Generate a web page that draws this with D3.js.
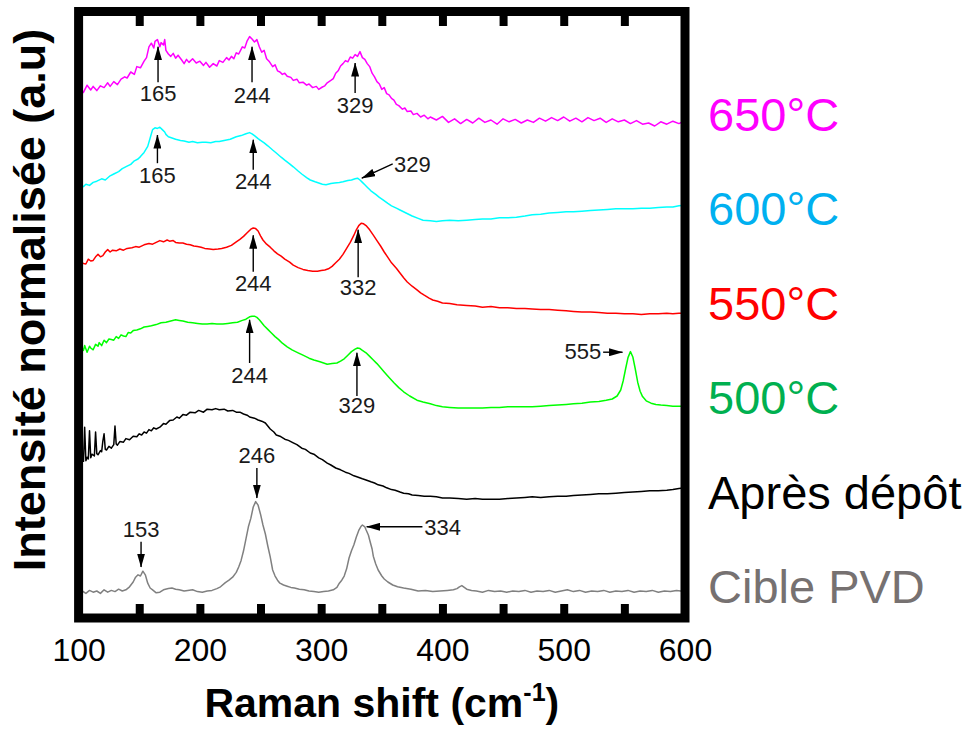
<!DOCTYPE html>
<html><head><meta charset="utf-8">
<script src="https://cdn.jsdelivr.net/npm/d3@7"></script>
<style>body{margin:0;background:#fff}</style>
</head><body>
<script>
// ---------- DATA ----------
const seriesNames = ["650°C","600°C","550°C","500°C","Après dépôt","Cible PVD"];
const lineColors  = ["#ff00ff","#00ffff","#ff0000","#00ff00","#000000","#808080"];
const labelColors = ["#ff00ff","#00b0f0","#ff0000","#00b050","#000000","#767171"];

// [Raman shift (cm-1), normalised intensity + offset (a.u.)]
const s650 = [[101,88.2],[104,87.6],[107,88.8],[110,88.0],[112,88.6],[115,87.9],[118,88.7],[121,88.4],[124,89.2],[126,88.6],[129,89.4],[132,88.9],[135,89.8],[138,90.2],[140,90.0],[143,91.0],[146,90.6],[148,91.9],[151,91.7],[154,92.8],[156,93.4],[158,95.2],[160,95.8],[162,95.0],[163,96.1],[165,96.4],[167,95.2],[168,95.9],[170,95.5],[171,96.4],[172,94.6],[174,94.0],[176,93.6],[178,94.1],[180,93.3],[182,93.8],[185,93.0],[187,92.4],[189,93.1],[191,92.6],[194,93.2],[197,92.5],[200,92.8],[203,92.1],[205,92.6],[208,91.8],[211,92.4],[214,92.0],[216,92.9],[219,92.6],[222,93.4],[224,93.0],[226,93.6],[228,93.2],[230,94.2],[232,94.0],[235,95.2],[237,95.0],[239,96.2],[241,96.9],[243,96.5],[245,96.0],[247,96.4],[249,95.2],[251,94.3],[253,94.6],[255,93.2],[257,92.8],[260,91.9],[262,92.2],[264,91.2],[266,91.0],[268,90.6],[270,90.8],[272,90.3],[275,90.1],[277,89.6],[280,89.8],[282,89.2],[285,89.3],[288,88.8],[290,89.0],[293,88.4],[296,88.6],[298,88.1],[301,88.5],[303,88.7],[305,89.2],[308,89.6],[310,89.9],[312,90.8],[314,91.2],[316,92.0],[318,92.4],[320,92.9],[322,92.7],[324,93.5],[326,93.3],[328,93.9],[330,93.6],[332,94.4],[334,93.4],[336,93.1],[338,92.4],[340,91.9],[342,90.8],[344,90.2],[346,89.4],[348,89.0],[350,88.1],[352,88.4],[354,87.4],[356,87.2],[358,86.6],[360,86.3],[362,85.6],[364,85.4],[367,84.8],[369,85.0],[371,84.4],[374,84.5],[376,83.9],[379,84.1],[382,83.5],[385,83.8],[388,83.2],[390,83.5],[395,83.0],[400,83.6],[405,82.6],[410,83.2],[415,82.4],[420,83.1],[425,82.5],[430,83.3],[435,82.6],[440,83.0],[445,82.3],[450,83.2],[455,82.7],[460,83.1],[465,82.5],[470,83.0],[475,82.6],[480,83.3],[485,82.8],[490,83.4],[495,82.9],[500,83.5],[505,82.8],[510,83.3],[515,82.7],[520,83.4],[525,82.9],[530,83.3],[535,82.6],[540,83.2],[545,82.7],[550,83.0],[555,82.4],[560,82.9],[565,82.3],[570,82.5],[575,82.0],[580,82.7],[585,82.3],[590,82.8],[595,82.4],[600,82.9]];

const s600 = [[101,71.7],[104,71.9],[106,72.3],[109,72.1],[112,72.6],[115,72.8],[119,73.2],[122,73.0],[126,73.7],[129,74.0],[133,74.4],[136,74.9],[140,75.3],[143,75.6],[146,76.2],[149,76.5],[151,76.9],[154,77.6],[157,78.6],[159,80.0],[161,81.4],[163,81.7],[165,81.6],[167,81.8],[169,81.4],[171,81.0],[172,80.6],[174,80.2],[177,80.0],[180,79.8],[184,79.6],[187,79.5],[191,79.3],[194,79.4],[198,79.2],[202,79.3],[205,79.3],[209,79.2],[213,79.4],[216,79.4],[220,79.6],[225,79.8],[230,80.2],[234,80.4],[238,80.7],[241,80.9],[243,80.7],[245,80.4],[248,79.9],[250,79.6],[253,79.2],[256,78.7],[260,78.0],[263,77.5],[267,76.8],[270,76.3],[274,75.7],[277,75.2],[281,74.5],[284,74.0],[288,73.4],[291,73.0],[295,72.7],[298,72.5],[301,72.3],[304,72.2],[308,72.4],[311,72.5],[315,72.6],[318,72.7],[322,72.9],[325,73.0],[328,73.2],[330,73.3],[332,73.0],[334,72.6],[336,72.2],[338,71.8],[341,71.2],[345,70.6],[348,70.1],[351,69.7],[355,69.1],[358,68.7],[362,68.3],[365,68.0],[370,67.5],[375,67.0],[380,66.6],[384,66.3],[390,66.2],[395,66.1],[400,66.2],[406,66.3],[413,66.2],[420,66.3],[427,66.4],[433,66.5],[440,66.5],[447,66.7],[454,66.7],[461,66.8],[468,67.0],[474,67.2],[481,67.3],[488,67.5],[495,67.6],[502,67.7],[508,67.7],[515,67.8],[522,67.9],[529,68.0],[536,68.1],[543,68.2],[550,68.2],[557,68.2],[564,68.3],[571,68.3],[578,68.4],[585,68.5],[590,68.5],[595,68.7],[600,68.8]];

const s550 = [[100,58.8],[102,59.3],[104,59.1],[106,59.0],[108,59.8],[110,59.5],[112,59.6],[114,60.2],[116,60.6],[118,60.2],[120,60.4],[122,61.0],[124,61.4],[126,61.0],[128,61.3],[131,61.2],[134,61.5],[137,61.3],[140,61.6],[144,61.7],[147,61.9],[150,61.8],[154,62.2],[158,62.4],[161,62.3],[164,62.6],[167,62.9],[170,62.7],[173,63.0],[175,62.8],[178,62.9],[180,62.6],[183,62.5],[186,62.5],[189,62.3],[192,62.2],[195,62.0],[198,61.9],[201,61.8],[204,61.6],[208,61.5],[211,61.4],[215,61.5],[218,61.6],[222,61.8],[226,62.1],[230,62.7],[233,63.1],[236,63.6],[239,64.2],[242,64.8],[244,65.0],[246,64.9],[248,64.5],[250,63.7],[252,63.0],[255,62.3],[258,61.8],[261,61.2],[264,60.7],[267,60.3],[270,59.8],[274,59.3],[277,58.8],[281,58.4],[285,58.1],[289,57.9],[293,57.8],[297,57.8],[300,57.9],[303,58.0],[306,58.2],[309,58.6],[312,59.2],[315,59.8],[318,60.6],[321,61.6],[324,62.6],[327,63.8],[329,64.7],[331,65.4],[333,65.8],[335,65.7],[337,65.4],[340,64.7],[343,63.8],[346,62.9],[349,62.0],[352,61.0],[355,60.1],[358,59.2],[362,58.3],[365,57.5],[368,56.7],[371,56.0],[375,55.3],[379,54.7],[382,54.2],[385,53.8],[389,53.3],[392,53.0],[396,52.8],[400,52.5],[406,52.4],[412,52.2],[420,52.1],[427,52.0],[433,51.8],[440,51.9],[447,51.7],[454,51.7],[461,51.6],[468,51.6],[474,51.5],[481,51.4],[488,51.4],[495,51.3],[502,51.2],[508,51.1],[515,51.0],[522,51.0],[529,50.9],[536,50.8],[543,50.8],[550,50.7],[557,50.7],[564,50.6],[571,50.7],[578,50.7],[585,50.8],[590,50.7],[595,50.8],[600,50.8]];

const s500 = [[101,43.8],[102,45.2],[104,44.6],[105,45.4],[107,44.3],[109,45.3],[110,45.0],[112,44.7],[114,45.6],[116,45.3],[117,45.9],[119,45.4],[121,46.3],[123,45.9],[125,46.5],[127,46.4],[129,46.3],[131,46.9],[133,46.6],[135,47.2],[137,47.0],[139,46.9],[141,47.6],[143,47.5],[145,47.9],[148,48.0],[151,48.2],[154,48.5],[157,48.6],[160,48.7],[164,48.9],[168,49.2],[172,49.3],[176,49.5],[180,49.7],[183,49.6],[186,49.5],[190,49.3],[194,49.2],[198,49.1],[202,49.0],[206,49.0],[210,49.1],[214,49.0],[219,49.0],[223,49.1],[227,49.2],[231,49.3],[235,49.6],[238,49.8],[241,50.2],[243,50.3],[245,50.3],[247,50.1],[249,49.7],[251,49.2],[253,48.7],[256,48.1],[259,47.5],[262,46.9],[265,46.4],[268,45.8],[272,45.2],[276,44.7],[281,44.2],[285,43.8],[290,43.3],[294,43.0],[299,42.7],[302,42.5],[305,42.3],[309,42.4],[313,42.5],[316,42.8],[319,43.2],[322,43.8],[325,44.4],[328,44.8],[330,45.0],[332,44.9],[334,44.6],[337,44.2],[340,43.6],[343,43.0],[346,42.4],[349,41.7],[352,41.0],[356,40.1],[360,39.2],[364,38.4],[368,37.7],[373,37.0],[379,36.3],[384,36.0],[390,35.7],[395,35.4],[400,35.2],[406,35.1],[413,35.0],[420,35.0],[427,35.0],[433,35.0],[440,35.1],[447,35.1],[454,35.2],[461,35.2],[468,35.2],[474,35.2],[481,35.3],[488,35.4],[495,35.5],[502,35.6],[508,35.7],[515,35.8],[522,36.0],[529,36.1],[535,36.3],[540,36.5],[544,37.0],[547,38.0],[549,39.5],[551,41.5],[553,43.4],[555,44.4],[557,43.5],[559,41.5],[561,39.3],[563,37.8],[565,36.9],[568,36.2],[572,35.8],[576,35.6],[580,35.5],[585,35.4],[590,35.3],[595,35.3],[600,35.3]];

const sDepot = [[104,26.0],[105,31.8],[106,26.2],[107,26.8],[108,26.5],[109,31.2],[110,26.7],[111,27.3],[113,27.0],[114,31.0],[115,27.4],[116,27.2],[118,27.9],[119,27.7],[120,29.5],[121,30.7],[122,28.1],[123,28.0],[125,28.6],[127,28.3],[129,28.9],[130,32.0],[131,29.0],[132,28.8],[134,29.4],[137,29.3],[139,29.9],[142,29.7],[145,30.3],[148,30.2],[150,30.7],[152,30.5],[154,31.0],[156,30.8],[158,31.4],[160,31.2],[162,31.7],[164,31.5],[167,31.8],[170,32.4],[172,32.3],[175,32.9],[178,33.0],[181,33.5],[183,33.3],[186,33.9],[189,33.8],[192,34.3],[196,34.2],[199,34.6],[203,34.3],[206,34.8],[210,34.7],[213,34.9],[216,34.7],[220,34.8],[223,34.5],[227,34.6],[230,34.3],[233,34.3],[236,34.0],[239,33.8],[241,33.5],[245,33.3],[248,33.0],[251,32.8],[254,32.5],[256,32.0],[258,31.5],[261,31.0],[263,30.5],[266,30.3],[270,29.8],[273,29.6],[277,29.2],[280,28.9],[284,28.3],[287,28.1],[291,27.5],[294,27.3],[298,26.7],[301,26.4],[305,25.8],[308,25.5],[312,25.0],[316,24.7],[320,24.3],[323,24.1],[327,23.7],[330,23.5],[334,23.2],[337,23.0],[341,22.7],[344,22.5],[347,22.2],[351,22.0],[354,21.7],[358,21.4],[361,21.3],[365,21.0],[368,20.8],[372,20.7],[375,20.5],[380,20.4],[385,20.3],[390,20.3],[395,20.2],[400,20.0],[406,20.0],[413,19.9],[420,19.8],[427,19.9],[433,19.8],[440,19.8],[447,19.8],[454,19.9],[461,20.0],[468,20.1],[474,20.2],[481,20.1],[488,20.2],[495,20.3],[502,20.3],[508,20.4],[515,20.5],[522,20.6],[529,20.7],[536,20.7],[543,20.8],[550,20.9],[557,21.0],[564,21.1],[571,21.2],[578,21.2],[585,21.3],[590,21.4],[595,21.6],[600,21.7]];

const sCible = [[100,4.2],[103,4.5],[106,4.1],[109,4.6],[112,4.3],[115,4.5],[118,4.1],[121,4.7],[124,4.3],[127,4.6],[130,4.4],[133,4.8],[136,4.5],[139,4.7],[142,5.2],[145,6.0],[147,6.8],[149,7.2],[151,7.0],[153,7.8],[155,7.2],[157,5.8],[159,5.0],[161,4.7],[164,4.2],[167,4.3],[170,4.7],[174,4.9],[177,5.0],[180,4.8],[183,4.7],[187,4.5],[190,4.6],[194,4.7],[198,4.4],[202,4.3],[206,4.5],[210,4.6],[214,4.9],[217,5.2],[221,5.9],[224,6.3],[227,6.8],[230,7.6],[232,8.5],[234,9.6],[236,11.2],[238,13.2],[240,15.2],[242,16.6],[244,18.5],[246,19.4],[248,18.8],[250,17.3],[252,15.5],[254,14.0],[256,12.0],[258,10.2],[260,8.0],[262,7.0],[264,6.3],[266,5.8],[269,5.5],[272,5.3],[275,5.1],[278,5.0],[282,4.8],[286,4.7],[290,4.5],[294,4.4],[298,4.3],[302,4.4],[306,4.5],[310,4.7],[313,5.1],[315,5.8],[317,6.3],[319,7.0],[321,8.2],[323,10.0],[325,11.2],[327,12.2],[329,13.5],[331,14.6],[333,15.3],[334,15.5],[336,15.2],[337,14.7],[339,13.8],[340,13.0],[342,11.5],[343,10.3],[345,9.0],[347,8.0],[350,7.0],[352,6.5],[355,6.0],[359,5.5],[363,5.2],[368,5.0],[374,4.8],[380,4.5],[386,4.6],[392,4.4],[398,4.5],[404,4.6],[409,4.7],[412,4.9],[414,5.2],[416,5.4],[418,5.1],[420,4.8],[424,4.6],[428,4.5],[433,4.3],[438,4.6],[443,4.4],[448,4.5],[453,4.3],[458,4.5],[463,4.4],[468,4.6],[473,4.3],[478,4.5],[483,4.4],[488,4.6],[493,4.3],[498,4.5],[503,4.7],[508,4.4],[513,4.6],[518,4.3],[523,4.5],[528,4.4],[533,4.6],[538,4.3],[543,4.5],[548,4.4],[553,4.6],[558,4.3],[563,4.5],[568,4.4],[573,4.6],[578,4.3],[583,4.5],[588,4.4],[593,4.6],[600,4.4]];

const seriesData = [s650, s600, s550, s500, sDepot, sCible];

const xTickLabels = [100, 200, 300, 400, 500, 600];
const xMinorTicks = [150, 200, 250, 300, 350, 400, 450, 500, 550];

// peak annotations in data units: text, tail [shift,int], tip [shift,int], label [shift,int], anchor
const annotations = [
  {t:"165", tail:[165.5,89.3], tip:[165.5,95.2], lab:[165.5,86.2], a:"middle"},
  {t:"244", tail:[243,89.3],   tip:[243,95.2],   lab:[243,85.8],   a:"middle"},
  {t:"329", tail:[328,87.5],   tip:[328,92.5],   lab:[328,84.2],   a:"middle"},
  {t:"165", tail:[165,75.8],   tip:[165,80.5],   lab:[165,72.5],   a:"middle"},
  {t:"244", tail:[244,74.7],   tip:[244,79.7],   lab:[244,71.5],   a:"middle"},
  {t:"329", tail:[359,75.7],   tip:[333.5,73.3], lab:[360,74.3],   a:"start"},
  {t:"244", tail:[244,57.7],   tip:[244,63.8],   lab:[244,54.5],   a:"middle"},
  {t:"332", tail:[330.5,56.8], tip:[330.5,64.7], lab:[330.5,53.8], a:"middle"},
  {t:"244", tail:[241,42.5],   tip:[241,49.7],   lab:[241,39.2],   a:"middle"},
  {t:"329", tail:[329.5,37.0], tip:[329.5,44.2], lab:[329.5,34.2], a:"middle"},
  {t:"555", tail:[532.5,44.3], tip:[548.5,44.3], lab:[531,43.2],   a:"end"},
  {t:"246", tail:[247,25.0],   tip:[247,20.0],   lab:[247,25.8],   a:"middle"},
  {t:"153", tail:[151.5,12.7], tip:[151.5,8.5],  lab:[151.5,13.5], a:"middle"},
  {t:"334", tail:[383.5,15.2], tip:[337.5,15.2], lab:[385,13.8],   a:"start"}
];

// ---------- CHART ----------
const W = 967, H = 729;
const FONT = "'Liberation Sans', Arial, Helvetica, sans-serif";
const svg = d3.select("body").append("svg")
  .attr("width", W).attr("height", H)
  .style("background", "#fff");

const x = d3.scaleLinear().domain([100, 600]).range([78.6, 685]);
const y = d3.scaleLinear().domain([0, 101]).range([618, 12]);

const defs = svg.append("defs");
defs.append("marker").attr("id", "head")
  .attr("markerUnits", "userSpaceOnUse")
  .attr("viewBox", "0 0 14 8")
  .attr("markerWidth", 14).attr("markerHeight", 8)
  .attr("refX", 13.5).attr("refY", 4)
  .attr("orient", "auto")
  .append("path").attr("d", "M0,0 L14,4 L0,8 Z").attr("fill", "#000");

const line = d3.line().x(d => x(d[0])).y(d => y(d[1]));

svg.append("g").selectAll("path").data(seriesData).join("path")
  .attr("d", line)
  .attr("fill", "none")
  .attr("stroke", (d, i) => lineColors[i])
  .attr("stroke-width", 1.5)
  .attr("stroke-linejoin", "round");

// annotations
const ann = svg.append("g");
ann.selectAll("line").data(annotations).join("line")
  .attr("x1", d => x(d.tail[0])).attr("y1", d => y(d.tail[1]))
  .attr("x2", d => x(d.tip[0])).attr("y2", d => y(d.tip[1]))
  .attr("stroke", "#000").attr("stroke-width", 1.4)
  .attr("marker-end", "url(#head)");
ann.selectAll("text").data(annotations).join("text")
  .attr("x", d => x(d.lab[0])).attr("y", d => y(d.lab[1]))
  .attr("text-anchor", d => d.a)
  .attr("font-family", FONT).attr("font-size", 22).attr("fill", "#1a1a1a")
  .text(d => d.t);

// frame
const [x0, x1] = x.range();
const [yb, yt] = y.range();
svg.append("rect")
  .attr("x", x0).attr("y", yt - 0.5)
  .attr("width", x1 - x0).attr("height", yb - yt + 0.5)
  .attr("fill", "none").attr("stroke", "#000").attr("stroke-width", 9);

// inward ticks bottom and top
const tb = svg.append("g").attr("transform", `translate(0,${yb})`)
  .call(d3.axisBottom(x).tickValues(xMinorTicks).tickSize(-14).tickFormat(""));
tb.select(".domain").remove();
tb.selectAll(".tick line").attr("stroke", "#000").attr("stroke-width", 8);

const tt = svg.append("g").attr("transform", `translate(0,${yt - 0.5})`)
  .call(d3.axisTop(x).tickValues(xMinorTicks).tickSize(-14.5).tickFormat(""));
tt.select(".domain").remove();
tt.selectAll(".tick line").attr("stroke", "#000").attr("stroke-width", 8);

// tick labels
const tl = svg.append("g").attr("transform", `translate(0,${yb})`)
  .call(d3.axisBottom(x).tickValues(xTickLabels).tickSize(0).tickFormat(d3.format("d")));
tl.select(".domain").remove();
tl.selectAll("text")
  .attr("y", 43).attr("dy", 0)
  .attr("font-family", FONT).attr("font-size", 32).attr("fill", "#000");

// x-axis title
const xt = svg.append("text")
  .attr("x", (x0 + x1) / 2).attr("y", 717)
  .attr("text-anchor", "middle")
  .attr("font-family", FONT).attr("font-size", 41).attr("font-weight", "bold")
  .attr("fill", "#000");
xt.append("tspan").text("Raman shift (cm");
xt.append("tspan").attr("font-size", 25).attr("dy", -16).text("-1");
xt.append("tspan").attr("dy", 16).text(")");

// y-axis title
svg.append("text")
  .attr("transform", `translate(45,${(yt + yb) / 2 - 15}) rotate(-90)`)
  .attr("text-anchor", "middle")
  .attr("font-family", FONT).attr("font-size", 45).attr("font-weight", "bold")
  .attr("fill", "#000")
  .text("Intensité normalisée (a.u)");

// series labels on the right
svg.append("g").selectAll("text").data(seriesNames).join("text")
  .attr("x", 708)
  .attr("y", (d, i) => 131 + i * 94.4)
  .attr("font-family", FONT).attr("font-size", 47)
  .attr("fill", (d, i) => labelColors[i])
  .text(d => d);
</script>
</body></html>
